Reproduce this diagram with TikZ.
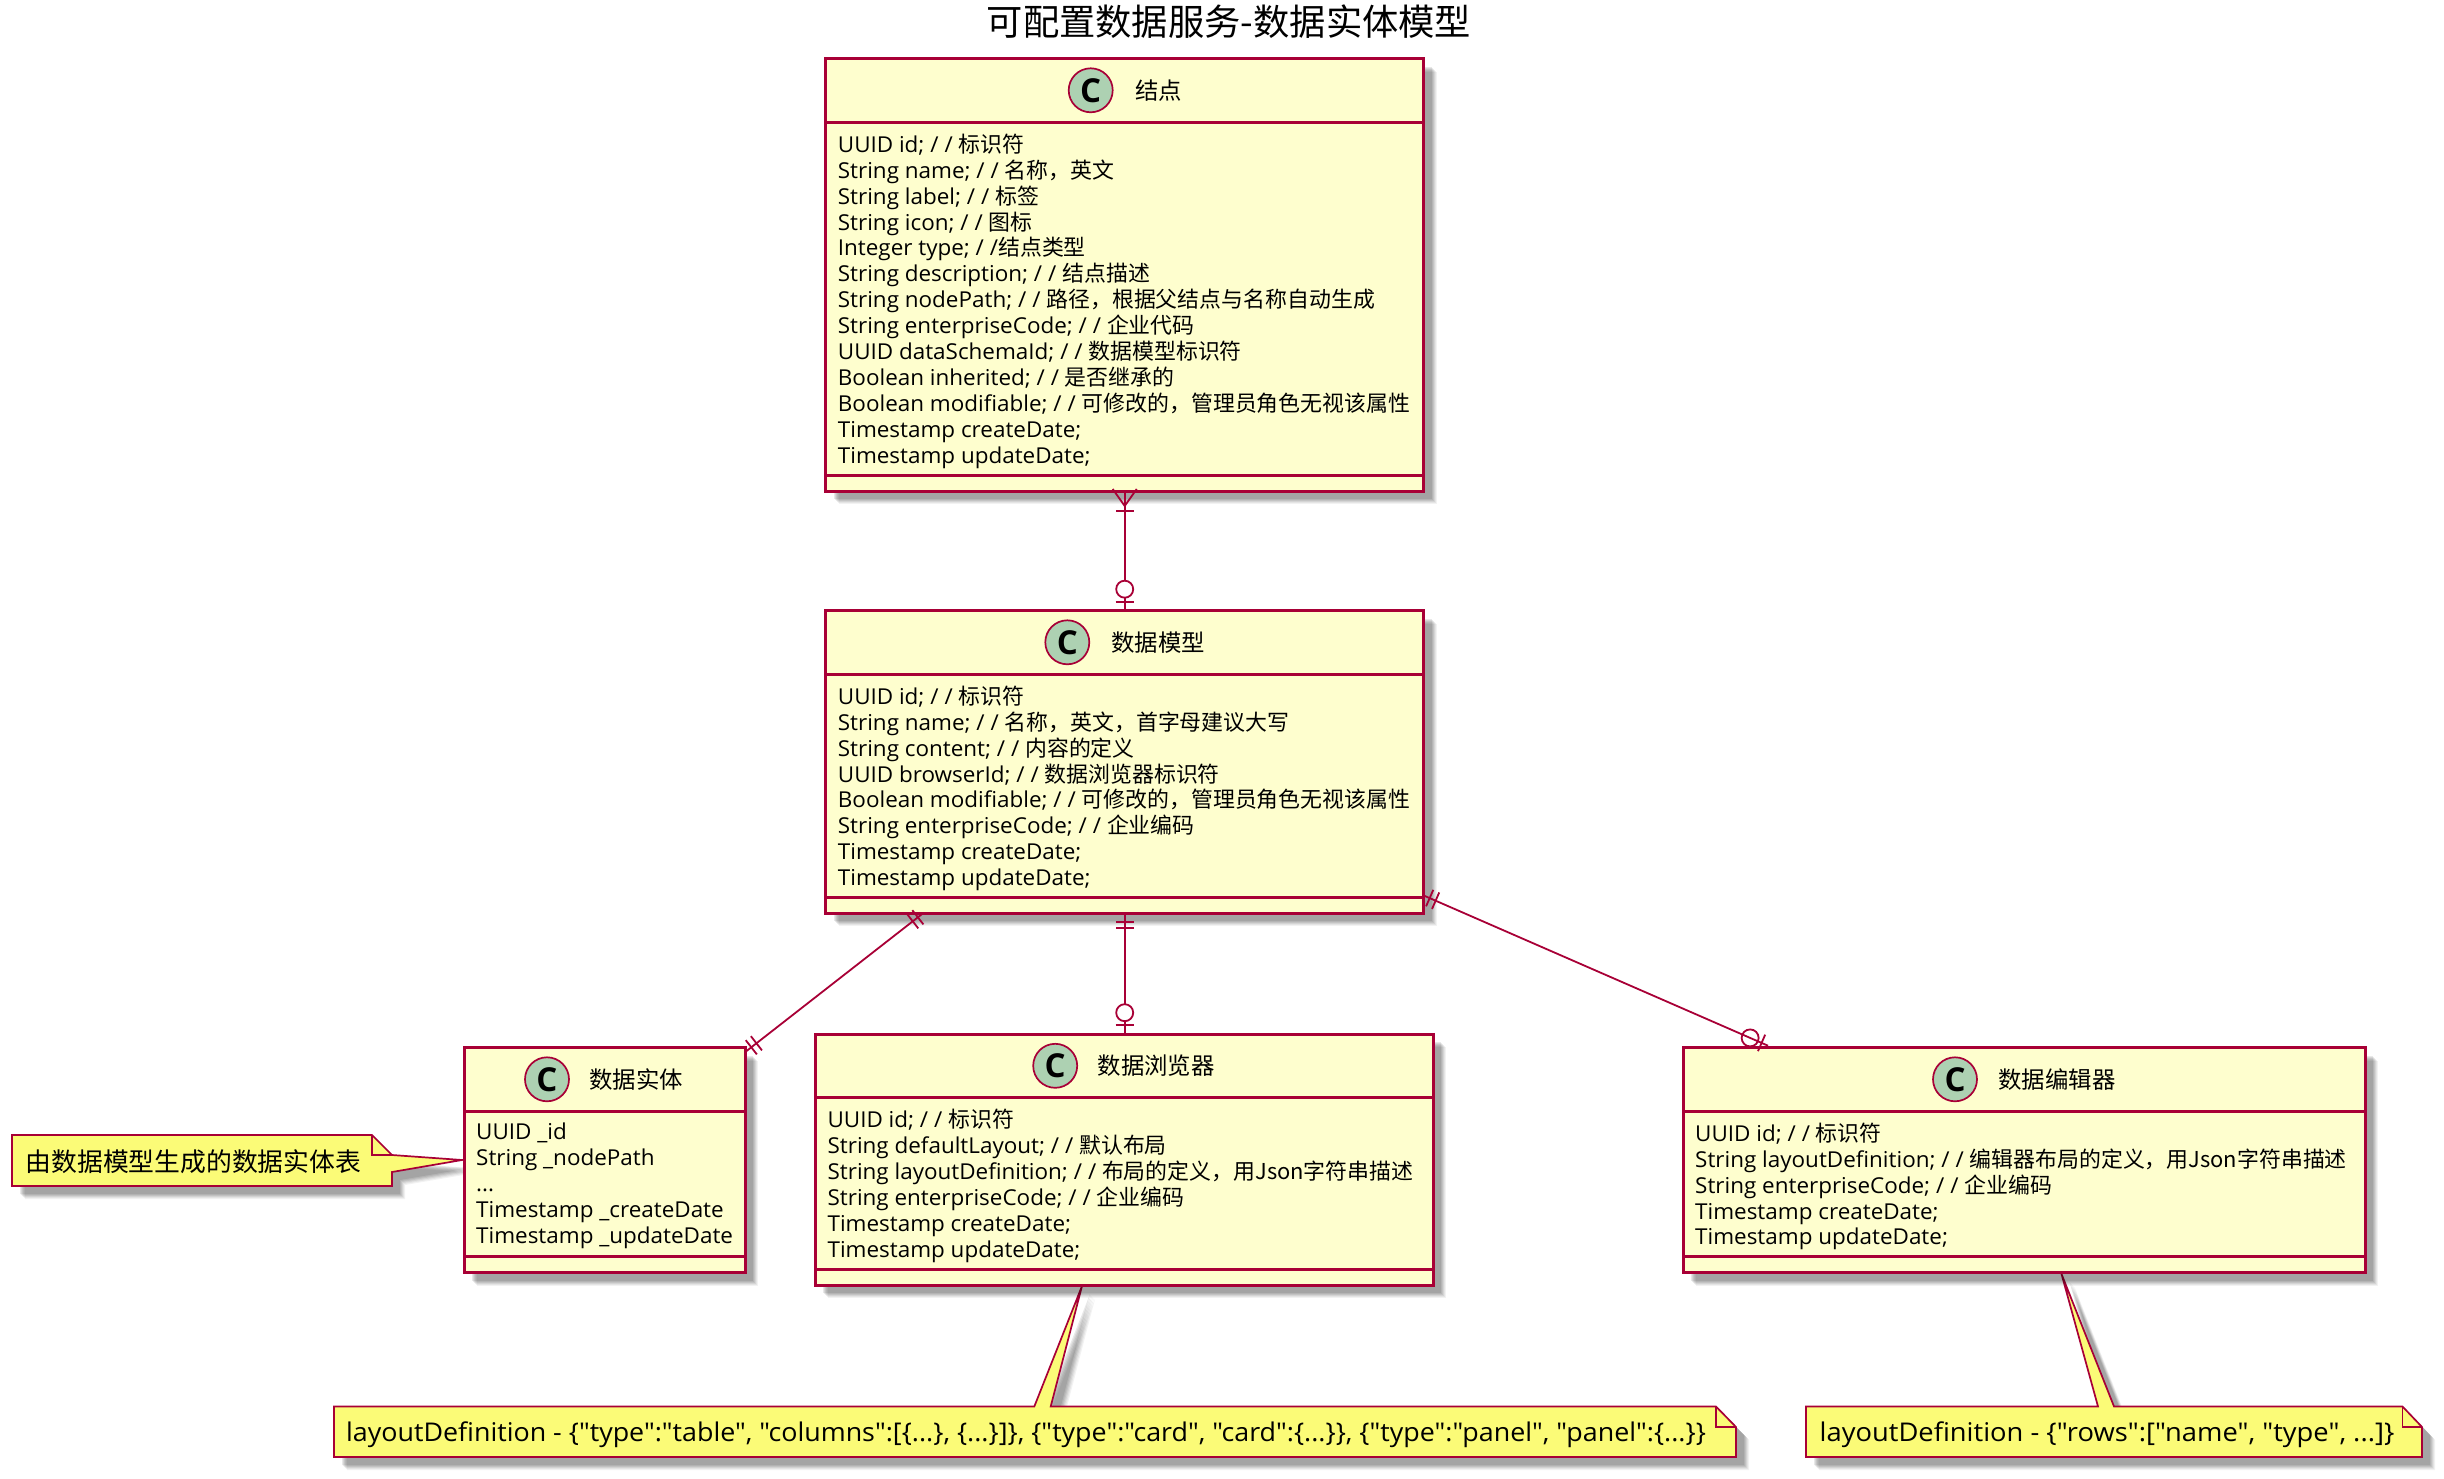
\documentclass[tikz,border=0pt]{standalone}
\usepackage{fontspec}
\usetikzlibrary{calc}
\newfontfamily\latf[FakeStretch=1.025]{Open Sans}
\newfontfamily\latn[FakeStretch=1.04]{Open Sans}
\newfontfamily\latm[FakeStretch=1.059]{Open Sans}
\newfontfamily\latb[FakeStretch=1.0]{Open Sans}
\newfontfamily\zhf{Noto Sans CJK SC}
\newcommand\zh[1]{{\zhf #1}}
\newcommand\dsl{/\kern6pt/}
\definecolor{cls}{HTML}{A80036}
\definecolor{classfill}{HTML}{FEFECE}
\definecolor{notefill}{HTML}{FBFB77}
\definecolor{spotfill}{HTML}{ADD1B2}
\tikzset{
  softshadow/.style={
    preaction={fill=black,opacity=.05,transform canvas={xshift=13pt,yshift=-13pt}},
    preaction={fill=black,opacity=.06,transform canvas={xshift=12pt,yshift=-12pt}},
    preaction={fill=black,opacity=.07,transform canvas={xshift=11pt,yshift=-11pt}},
    preaction={fill=black,opacity=.08,transform canvas={xshift=10pt,yshift=-10pt}},
    preaction={fill=black,opacity=.08,transform canvas={xshift=9pt,yshift=-9pt}},
    preaction={fill=black,opacity=.09,transform canvas={xshift=8pt,yshift=-8pt}}},
  classbox/.style={rectangle,draw=cls,fill=classfill,line width=3,inner sep=0pt,outer sep=0pt,softshadow},
  classline/.style={draw=cls,line width=3},
  spot/.style={circle,draw=cls,fill=spotfill,line width=1.7,minimum size=44,inner sep=0pt,font=\fontsize{33}{33}\selectfont\latb\bfseries},
  classtitle/.style={anchor=west,inner sep=0pt,font=\fontsize{23.4}{26}\selectfont\zhf},
  members/.style={anchor=north west,inner sep=0pt,align=left,font=\fontsize{21.9}{25.9}\selectfont\latf},
  notebody/.style={draw=cls,fill=notefill,line width=1.7,line join=miter,softshadow},
  notefold/.style={draw=cls,line width=1.7},
  notetext/.style={anchor=west,inner sep=0pt,font=\fontsize{25.8}{30}\selectfont\latn},
  conn/.style={draw=cls,line width=1.8},
}
% #1 node, #2 title, #3 spot x, #4 title x, #5 member rows
\newcommand\classparts[5]{
  \draw[classline] ($(#1.north west)+(0,63.6)$) -- ($(#1.north east)+(0,63.6)$);
  \draw[classline] ($(#1.south west)+(0,-16)$) -- ($(#1.south east)+(0,-16)$);
  \node[spot] (#1spot) at ($(#1.north)+(0,31.6)$) [xshift=#3pt] {C};
  \node[classtitle] (#1title) at ($(#1.north)+(0,31.6)$) [xshift=#4pt] {#2};
  \node[members] (#1rows) at ($(#1.north west)+(12,75)$) {#5};
}
% bar across the line from #1 towards #2, #3 pt from #1
\newcommand\erbar[3]{\draw[conn] ($(#1)!#3pt!(#2)!9pt!90:(#2)$) -- ($(#1)!#3pt!(#2)!9pt!-90:(#2)$);}
\newcommand\ercircle[3]{\draw[conn,fill=white] ($(#1)!#3pt!(#2)$) circle[radius=8.5pt];}
\newcommand\eropen[3]{\draw[conn] ($(#1)!#3pt!(#2)$) circle[radius=8.5pt];}
\newcommand\ercrow[2]{
  \draw[conn] ($(#1)!-2pt!(#2)!12pt!90:(#2)$) -- ($(#1)!15pt!(#2)$) -- ($(#1)!-2pt!(#2)!12pt!-90:(#2)$);
}
\begin{document}
\begin{tikzpicture}[x=1pt,y=-1pt]
\useasboundingbox (0,0) rectangle (2444,1479);
\node[anchor=center,inner sep=0pt,font=\fontsize{36.3}{40}\selectfont\zhf] (title) at (1229,22) {可配置数据服务-数据实体模型};

% notes
\draw[notebody] (12,1135) -- (372,1135) -- (392,1155) -- (462,1160) -- (392,1172) -- (392,1186) -- (12,1186) -- cycle;
\draw[notefold] (372,1135) -- (372,1155) -- (392,1155);
\node[notetext] (n1) at (25.5,1161.5) {\zh{由数据模型生成的数据实体表}};

\draw[notebody] (334,1406.5) -- (1034.3,1406.5) -- (1082,1286) -- (1050.7,1406.5) -- (1716,1406.5) -- (1736,1427) -- (1736,1457) -- (334,1457) -- cycle;
\draw[notefold] (1716,1406.5) -- (1716,1427) -- (1736,1427);
\node[notetext] (n2) at (346,1434.5) {layoutDefinition - \{"type":"table", "columns":[\{...\}, \{...\}]\}, \{"type":"card", "card":\{...\}\}, \{"type":"panel", "panel":\{...\}\}};

\draw[notebody] (1806,1406.5) -- (2098,1406.5) -- (2061.5,1274) -- (2114,1406.5) -- (2402.5,1406.5) -- (2422,1427) -- (2422,1457) -- (1806,1457) -- cycle;
\draw[notefold] (2402.5,1406.5) -- (2402.5,1427) -- (2422,1427);
\node[notetext,font=\fontsize{25.8}{30}\selectfont\latm] (n3) at (1819.5,1434.5) {layoutDefinition - \{"rows":["name", "type", ...]\}};

% classes
\node[classbox,minimum width=598,minimum height=432.3] (b1) at (1124.7,274.85) {};
\classparts{b1}{结点}{-34}{10.5}{%
UUID id; \dsl\ \zh{标识符}\\
String name; \dsl\ \zh{名称，英文}\\
String label; \dsl\ \zh{标签}\\
String icon; \dsl\ \zh{图标}\\
Integer type; \dsl\zh{结点类型}\\
String description; \dsl\ \zh{结点描述}\\
String nodePath; \dsl\ \zh{路径，根据父结点与名称自动生成}\\
String enterpriseCode; \dsl\ \zh{企业代码}\\
UUID dataSchemaId; \dsl\ \zh{数据模型标识符}\\
Boolean inherited; \dsl\ \zh{是否继承的}\\
Boolean modifiable; \dsl\ \zh{可修改的，管理员角色无视该属性}\\
Timestamp createDate;\\
Timestamp updateDate;}

\node[classbox,minimum width=598,minimum height=302.6] (b2) at (1124.7,762) {};
\classparts{b2}{数据模型}{-57.4}{-13.5}{%
UUID id; \dsl\ \zh{标识符}\\
String name; \dsl\ \zh{名称，英文，首字母建议大写}\\
String content; \dsl\ \zh{内容的定义}\\
UUID browserId; \dsl\ \zh{数据浏览器标识符}\\
Boolean modifiable; \dsl\ \zh{可修改的，管理员角色无视该属性}\\
String enterpriseCode; \dsl\ \zh{企业编码}\\
Timestamp createDate;\\
Timestamp updateDate;}

\node[classbox,minimum width=281,minimum height=225.1] (ent) at (604.5,1160.25) {};
\classparts{ent}{数据实体}{-57.5}{-15.5}{%
UUID \_id\\
String \_nodePath\\
...\\
Timestamp \_createDate\\
Timestamp \_updateDate}

\node[classbox,minimum width=617.6,minimum height=251] (brw) at (1124.2,1159.7) {};
\classparts{brw}{数据浏览器}{-69}{-26.7}{%
UUID id; \dsl\ \zh{标识符}\\
String defaultLayout; \dsl\ \zh{默认布局}\\
String layoutDefinition; \dsl\ \zh{布局的定义，用Json字符串描述}\\
String enterpriseCode; \dsl\ \zh{企业编码}\\
Timestamp createDate;\\
Timestamp updateDate;}

\node[classbox,minimum width=682,minimum height=225.1] (edt) at (2024,1160.25) {};
\classparts{edt}{数据编辑器}{-69}{-25.7}{%
UUID id; \dsl\ \zh{标识符}\\
String layoutDefinition; \dsl\ \zh{编辑器布局的定义，用Json字符串描述}\\
String enterpriseCode; \dsl\ \zh{企业编码}\\
Timestamp createDate;\\
Timestamp updateDate;}

% connectors
\coordinate (a1) at (b1.south);
\coordinate (a2) at (b2.north);
\draw[conn] (a1) -- (a2);
\ercrow{a1}{a2}\erbar{a1}{a2}{19.7}
\erbar{a2}{a1}{9}\ercircle{a2}{a1}{21.5}

\coordinate (c1) at (b2.south);
\coordinate (c2) at (brw.north -| b2.south);
\draw[conn] (c1) -- (c2);
\erbar{c1}{c2}{9}\erbar{c1}{c2}{15}
\erbar{c2}{c1}{9}\ercircle{c2}{c1}{21.5}

\coordinate (d1) at ($(b2.south west)+(97.3,0)$);
\coordinate (d2) at ($(ent.north east)+(0,4.5)$);
\draw[conn] (d1) -- (d2);
\erbar{d1}{d2}{6.5}\erbar{d1}{d2}{13}
\erbar{d2}{d1}{8}\erbar{d2}{d1}{14.5}

\coordinate (e1) at ($(b2.south east)+(0,-17.8)$);
\coordinate (e2) at ($(edt.north west)+(85,-2)$);
\draw[conn] (e1) -- (e2);
\erbar{e1}{e2}{6.5}\erbar{e1}{e2}{13}
\erbar{e2}{e1}{7}\eropen{e2}{e1}{19.5}
\end{tikzpicture}
\end{document}
